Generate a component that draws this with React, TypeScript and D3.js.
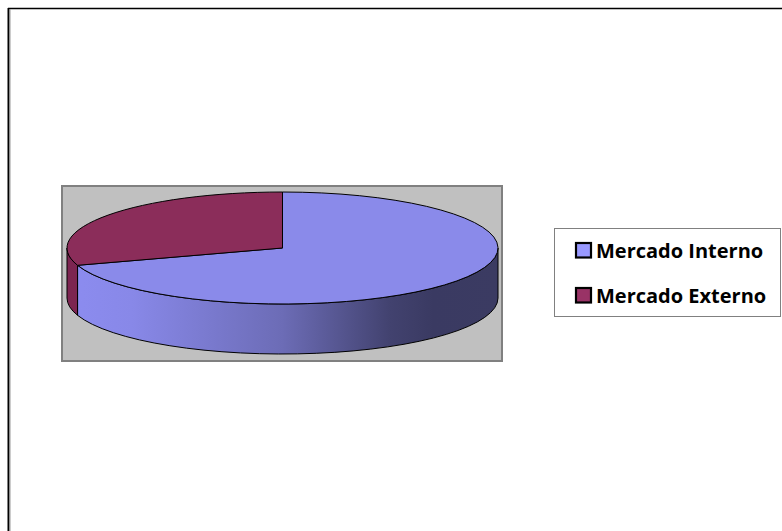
import React from "react";
import * as d3 from "d3";

const categories = ["Mercado Interno", "Mercado Externo"];
const values = [70, 30];
const topColors = ["#8A8AEA", "#8B2D5A"];
const sideColors = ["#8787E6", "#7C2551"];
const legendColors = ["#9999FF", "#993366"];

const W = 782;
const H = 531;
const cx = 282.5;
const cy = 248;
const rx = 215.5;
const ry = 56;
const depth = 50;

function pt(a: number, dy = 0): [number, number] {
  return [cx + rx * Math.sin(a), cy - ry * Math.cos(a) + dy];
}

export default function App() {
  const pie = d3.pie<number>().sort(null).startAngle(0).endAngle(2 * Math.PI);
  const arcs = pie(values);

  const topPath = (a0: number, a1: number) => {
    const p0 = pt(a0);
    const p1 = pt(a1);
    const large = a1 - a0 > Math.PI ? 1 : 0;
    return `M${cx},${cy}L${p0[0]},${p0[1]}A${rx},${ry} 0 ${large} 1 ${p1[0]},${p1[1]}Z`;
  };

  const sidePath = (a0: number, a1: number) => {
    const s = Math.max(a0, Math.PI / 2);
    const e = Math.min(a1, (3 * Math.PI) / 2);
    if (e <= s) return null;
    const p0 = pt(s);
    const p1 = pt(e);
    const q1 = pt(e, depth);
    const q0 = pt(s, depth);
    return `M${p0[0]},${p0[1]}A${rx},${ry} 0 0 1 ${p1[0]},${p1[1]}L${q1[0]},${q1[1]}A${rx},${ry} 0 0 0 ${q0[0]},${q0[1]}Z`;
  };

  return (
    <svg
      width={W}
      height={H}
      style={{ position: "absolute", left: 0, top: 0, display: "block" }}
    >
      <defs>
        <linearGradient
          id="sideGrad"
          gradientUnits="userSpaceOnUse"
          x1={cx - rx}
          x2={cx + rx}
          y1={0}
          y2={0}
        >
          <stop offset="0" stopColor="#8C8CF0" />
          <stop offset="0.15" stopColor="#8888E8" />
          <stop offset="0.5" stopColor="#6C6CB6" />
          <stop offset="0.75" stopColor="#42426F" />
          <stop offset="0.85" stopColor="#3A3A62" />
          <stop offset="1" stopColor="#3B3B62" />
        </linearGradient>
      </defs>
      <rect x={0} y={0} width={W} height={H} fill="#fff" />
      {/* outer frame */}
      <line x1={8} y1={8.5} x2={W} y2={8.5} stroke="#000" strokeWidth={1.5} />
      <line x1={8.5} y1={8} x2={8.5} y2={H} stroke="#000" strokeWidth={2} />
      <line x1={10} y1={9} x2={10} y2={H} stroke="#9a9a9a" strokeWidth={1} />

      {/* plot area */}
      <rect x={62} y={186} width={440} height={175} fill="#C0C0C0" stroke="#808080" strokeWidth={2} />

      {/* sides */}
      {arcs.map((a, i) => {
        const d = sidePath(a.startAngle, a.endAngle);
        if (!d) return null;
        return (
          <path
            key={"s" + i}
            d={d}
            fill={i === 0 ? "url(#sideGrad)" : sideColors[i]}
            stroke="#000"
            strokeWidth={1}
            strokeLinejoin="round"
          />
        );
      })}
      {/* tops */}
      {arcs.map((a, i) => (
        <path
          key={"t" + i}
          d={topPath(a.startAngle, a.endAngle)}
          fill={topColors[i]}
          stroke="#000"
          strokeWidth={1}
          strokeLinejoin="round"
        />
      ))}

      {/* legend */}
      <rect x={554.5} y={228.5} width={226} height={88} fill="#fff" stroke="#808080" strokeWidth={1} />
      {categories.map((c, i) => (
        <g key={c}>
          <rect
            x={576}
            y={243}
            transform={`translate(0, ${i * 45})`}
            width={15}
            height={14.5}
            fill={legendColors[i]}
            stroke="#000"
            strokeWidth={2.2}
          />
          <text
            x={596}
            y={257.5 + i * 45}
            fontFamily="'Open Sans', sans-serif"
            fontWeight="bold"
            fontSize={20}
            fill="#000"
          >
            {c}
          </text>
        </g>
      ))}
    </svg>
  );
}
